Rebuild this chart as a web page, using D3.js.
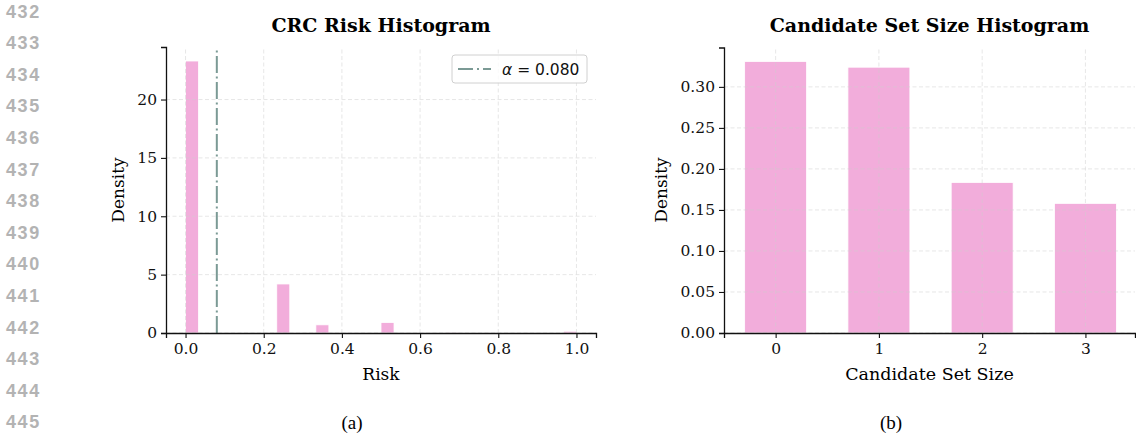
<!DOCTYPE html>
<html>
<head>
<meta charset="utf-8">
<script src="https://cdn.jsdelivr.net/npm/d3@7"></script>
<style>
  body { margin: 0; background: #fff; }
  svg { display: block; }
</style>
</head>
<body>
<svg id="chart" width="1136" height="433"></svg>
<script>
// ---- data ----
const lineNumbers = [432, 433, 434, 435, 436, 437, 438, 439, 440, 441, 442, 443, 444, 445];

// CRC risk histogram: 30 equal bins over [0, 1], density per bin
const riskBinCount = 30;
const riskDensity = [
  23.3, 0, 0, 0, 0, 0, 0, 4.2, 0, 0,
  0.7, 0, 0, 0, 0, 0.9, 0, 0, 0, 0,
  0.02, 0, 0.05, 0, 0, 0, 0, 0, 0, 0.15
];
const alphaValue = 0.08;
const riskXTicks = [0, 0.2, 0.4, 0.6, 0.8, 1.0];
const riskYTicks = [0, 5, 10, 15, 20];

// candidate set size histogram
const setSizes = [0, 1, 2, 3];
const setDensity = [0.331, 0.324, 0.1835, 0.158];
const setYTicks = [0, 0.05, 0.10, 0.15, 0.20, 0.25, 0.30];

const pink = "#f2addb";
const alphaColor = "#7b9a95";
const serif = "DejaVu Serif";

const svg = d3.select("#chart");

// gray line numbers down the left margin
svg.append("g").selectAll("text")
  .data(lineNumbers)
  .enter().append("text")
  .attr("x", 6)
  .attr("y", (d, i) => 17.5 + i * 31.6)
  .attr("font-family", "Liberation Sans")
  .attr("font-weight", "bold")
  .attr("font-size", "18px")
  .attr("letter-spacing", "1.6px")
  .attr("fill", "#b3b3b3")
  .text(d => d);

function styleAxis(g) {
  g.selectAll("text").attr("font-family", serif).attr("font-size", "15.5px").attr("fill", "#111");
  g.selectAll("line").attr("stroke", "#111").attr("stroke-width", 1.1);
  g.select(".domain").attr("stroke", "#111").attr("stroke-width", 1.3);
}

function grid(g, x, y, xt, yt) {
  const gg = g.append("g").attr("class", "grid");
  gg.selectAll("line.gx").data(xt).enter().append("line")
    .attr("x1", d => x(d)).attr("x2", d => x(d))
    .attr("y1", y.range()[0]).attr("y2", y.range()[1]);
  gg.selectAll("line.gy").data(yt).enter().append("line")
    .attr("y1", d => y(d)).attr("y2", d => y(d))
    .attr("x1", x.range()[0]).attr("x2", x.range()[1]);
  gg.selectAll("line")
    .attr("stroke", "#cfcfcf")
    .attr("stroke-opacity", 0.55)
    .attr("stroke-width", 0.9)
    .attr("stroke-dasharray", "4,2.5");
}

// ---------- panel (a) ----------
const xa = d3.scaleLinear().domain([-0.05, 1.05]).range([166, 596]);
const ya = d3.scaleLinear().domain([0, 24.5]).range([333, 47]);
const ga = svg.append("g");

ga.append("g").selectAll("rect")
  .data(riskDensity)
  .enter().append("rect")
  .attr("x", (d, i) => xa(i / riskBinCount))
  .attr("width", xa(1 / riskBinCount) - xa(0))
  .attr("y", d => ya(d))
  .attr("height", d => ya(0) - ya(d))
  .attr("fill", pink)
  .attr("stroke", "#fff")
  .attr("stroke-width", d => d > 0 ? 0.8 : 0);

grid(ga, xa, ya, riskXTicks, riskYTicks);

ga.append("line")
  .attr("x1", xa(alphaValue)).attr("x2", xa(alphaValue))
  .attr("y1", ya.range()[0]).attr("y2", ya.range()[1])
  .attr("stroke", alphaColor)
  .attr("stroke-width", 2)
  .attr("stroke-dasharray", "17,3.5,2,3.5");

ga.append("g")
  .attr("transform", "translate(0,333)")
  .call(d3.axisBottom(xa).tickValues(riskXTicks).tickFormat(d3.format(".1f")).tickSizeOuter(0).tickSize(5).tickPadding(5))
  .call(styleAxis);
ga.append("g")
  .attr("transform", "translate(166,0)")
  .call(d3.axisLeft(ya).tickValues(riskYTicks).tickSizeOuter(0).tickSize(5).tickPadding(4))
  .call(styleAxis);

ga.append("text")
  .attr("x", 381).attr("y", 32)
  .attr("text-anchor", "middle")
  .attr("font-family", serif).attr("font-weight", "bold").attr("font-size", "19px")
  .text("CRC Risk Histogram");
ga.append("text")
  .attr("x", 381).attr("y", 380)
  .attr("text-anchor", "middle")
  .attr("font-family", serif).attr("font-size", "17px")
  .text("Risk");
ga.append("text")
  .attr("transform", "translate(123.5,190) rotate(-90)")
  .attr("text-anchor", "middle")
  .attr("font-family", serif).attr("font-size", "17px")
  .text("Density");

// legend
const leg = ga.append("g");
leg.append("rect")
  .attr("x", 452).attr("y", 55).attr("width", 135).attr("height", 28)
  .attr("rx", 3)
  .attr("fill", "#fff").attr("fill-opacity", 0.8)
  .attr("stroke", "#d0d0d0").attr("stroke-width", 1);
leg.append("line")
  .attr("x1", 458).attr("x2", 491).attr("y1", 69).attr("y2", 69)
  .attr("stroke", alphaColor).attr("stroke-width", 2)
  .attr("stroke-dasharray", "15,4,2,4");
const lt = leg.append("text")
  .attr("x", 502).attr("y", 74.5)
  .attr("font-family", "DejaVu Sans").attr("font-size", "15.5px").attr("fill", "#111");
lt.append("tspan").attr("font-style", "italic").text("α");
lt.append("tspan").text(" = " + d3.format(".3f")(alphaValue));

// ---------- panel (b) ----------
const xb = d3.scaleLinear().domain([-0.5, 3.48]).range([724, 1135]);
const yb = d3.scaleLinear().domain([0, 0.348]).range([333, 47.5]);
const gb = svg.append("g");

gb.append("g").selectAll("rect")
  .data(setSizes)
  .enter().append("rect")
  .attr("x", d => xb(d - 0.3))
  .attr("width", xb(0.3) - xb(-0.3))
  .attr("y", (d, i) => yb(setDensity[i]))
  .attr("height", (d, i) => yb(0) - yb(setDensity[i]))
  .attr("fill", pink)
  .attr("stroke", "#fff")
  .attr("stroke-width", 0.8);

grid(gb, xb, yb, setSizes, setYTicks);

gb.append("g")
  .attr("transform", "translate(0,333)")
  .call(d3.axisBottom(xb).tickValues(setSizes).tickFormat(d3.format("d")).tickSizeOuter(0).tickSize(5).tickPadding(5))
  .call(styleAxis);
gb.append("g")
  .attr("transform", "translate(724,0)")
  .call(d3.axisLeft(yb).tickValues(setYTicks).tickFormat(d3.format(".2f")).tickSizeOuter(0).tickSize(5).tickPadding(4))
  .call(styleAxis);

gb.append("text")
  .attr("x", 929.5).attr("y", 32)
  .attr("text-anchor", "middle")
  .attr("font-family", serif).attr("font-weight", "bold").attr("font-size", "19px")
  .text("Candidate Set Size Histogram");
gb.append("text")
  .attr("x", 929.5).attr("y", 380)
  .attr("text-anchor", "middle")
  .attr("font-family", serif).attr("font-size", "17.5px")
  .text("Candidate Set Size");
gb.append("text")
  .attr("transform", "translate(666.5,190) rotate(-90)")
  .attr("text-anchor", "middle")
  .attr("font-family", serif).attr("font-size", "17px")
  .text("Density");

// sub-figure captions
svg.append("text")
  .attr("x", 352).attr("y", 429)
  .attr("text-anchor", "middle")
  .attr("font-family", "Liberation Serif").attr("font-size", "19px")
  .text("(a)");
svg.append("text")
  .attr("x", 891).attr("y", 429)
  .attr("text-anchor", "middle")
  .attr("font-family", "Liberation Serif").attr("font-size", "19px")
  .text("(b)");
</script>
</body>
</html>
